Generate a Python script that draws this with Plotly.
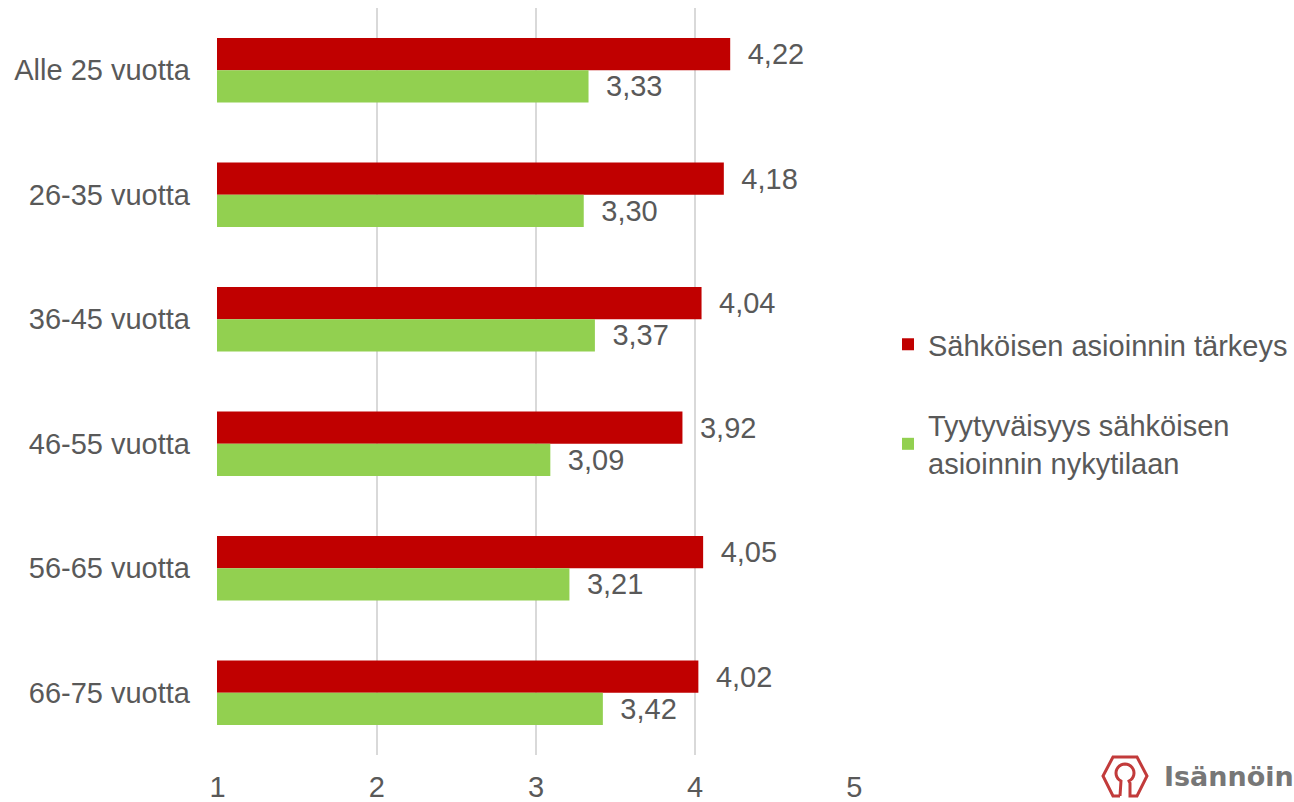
import math
import plotly.graph_objects as go

categories = ["Alle 25 vuotta", "26-35 vuotta", "36-45 vuotta", "46-55 vuotta", "56-65 vuotta", "66-75 vuotta"]
tarkeys = [4.22, 4.18, 4.04, 3.92, 4.05, 4.02]
tyytyvaisyys = [3.33, 3.30, 3.37, 3.09, 3.21, 3.42]
series_names = ["Sähköisen asioinnin tärkeys", "Tyytyväisyys sähköisen<br>asioinnin nykytilaan"]
x_ticks = [1, 2, 3, 4, 5]

TEXT = "#595959"
FONT = "Liberation Sans, Arial, sans-serif"
W, H = 1294, 802
L, R, T, B = 217, 439, 8, 47
PW, PH = W - L - R, H - T - B


def px(x):
    return (x - L) / PW


def py(y):
    return (H - B - y) / PH


fig = go.Figure()
fig.add_trace(go.Bar(
    y=categories, x=tarkeys, orientation="h", name=series_names[0],
    marker=dict(color="#C00000", line=dict(width=0)),
    texttemplate="\u2002%{x:.2f}", textposition="outside",
    textfont=dict(size=29, color=TEXT, family=FONT),
    cliponaxis=False, legendgroup="a", hoverinfo="x+y",
))
fig.add_trace(go.Bar(
    y=categories, x=tyytyvaisyys, orientation="h", name=series_names[1],
    marker=dict(color="#92D050", line=dict(width=0)),
    texttemplate="\u2002%{x:.2f}", textposition="outside",
    textfont=dict(size=29, color=TEXT, family=FONT),
    cliponaxis=False, legendgroup="b", hoverinfo="x+y",
))

# logo (decoration)
hexpath = [(1120, 796), (1113, 796), (1103, 776), (1113, 757), (1137, 757),
           (1147, 776), (1137, 796), (1130, 796), (1130, 783)]
cx, cy, r = 1125, 773, 9
arc = []
a0 = math.degrees(math.atan2(783 - cy, 1130 - cx))
a1 = 180 - a0
n = 24
for i in range(n + 1):
    a = math.radians(a0 - (a0 + 360 - a1) * i / n)
    arc.append((cx + r * math.cos(a), cy + r * math.sin(a)))
pts = hexpath + arc + [(1120, 796)]
path = "M" + " L".join(f"{px(x):.5f},{py(y):.5f}" for x, y in pts)

fig.add_shape(type="path", path=path, xref="paper", yref="paper",
              line=dict(color="#C23B3B", width=3), layer="above")
fig.add_annotation(text="Isännöin", xref="paper", yref="paper",
                   x=px(1163), y=py(777), xanchor="left", yanchor="middle",
                   showarrow=False, borderpad=0,
                   font=dict(size=27, color="#777777", family="DejaVu Sans", weight="bold"))

fig.update_layout(
    width=W, height=H,
    margin=dict(l=L, r=R, t=T, b=B, pad=0, autoexpand=False),
    paper_bgcolor="white", plot_bgcolor="white",
    barmode="group", bargap=0.48, bargroupgap=0,
    separators=", ",
    font=dict(family=FONT, size=29, color=TEXT),
    showlegend=True,
    legend=dict(x=px(888), xanchor="left", y=0.47, yanchor="middle",
                font=dict(size=29, color=TEXT, family=FONT),
                tracegroupgap=40, traceorder="grouped",
                bgcolor="rgba(0,0,0,0)"),
    xaxis=dict(range=[0.996, 5.004], tickvals=x_ticks, ticktext=[str(v) for v in x_ticks],
               showgrid=True, gridcolor="#D9D9D9", gridwidth=1.5,
               zeroline=False, showline=False, ticks="",
               ticklabelstandoff=12,
               tickfont=dict(size=29, color=TEXT, family=FONT)),
    yaxis=dict(categoryorder="array", categoryarray=categories, autorange="reversed",
               showgrid=False, zeroline=False, showline=False, ticks="",
               ticklabelstandoff=26,
               tickfont=dict(size=29, color=TEXT, family=FONT)),
)

fig.write_html("out.html", config={"displayModeBar": False},
               post_script="document.body.style.margin='0';document.body.style.overflow='hidden';")
